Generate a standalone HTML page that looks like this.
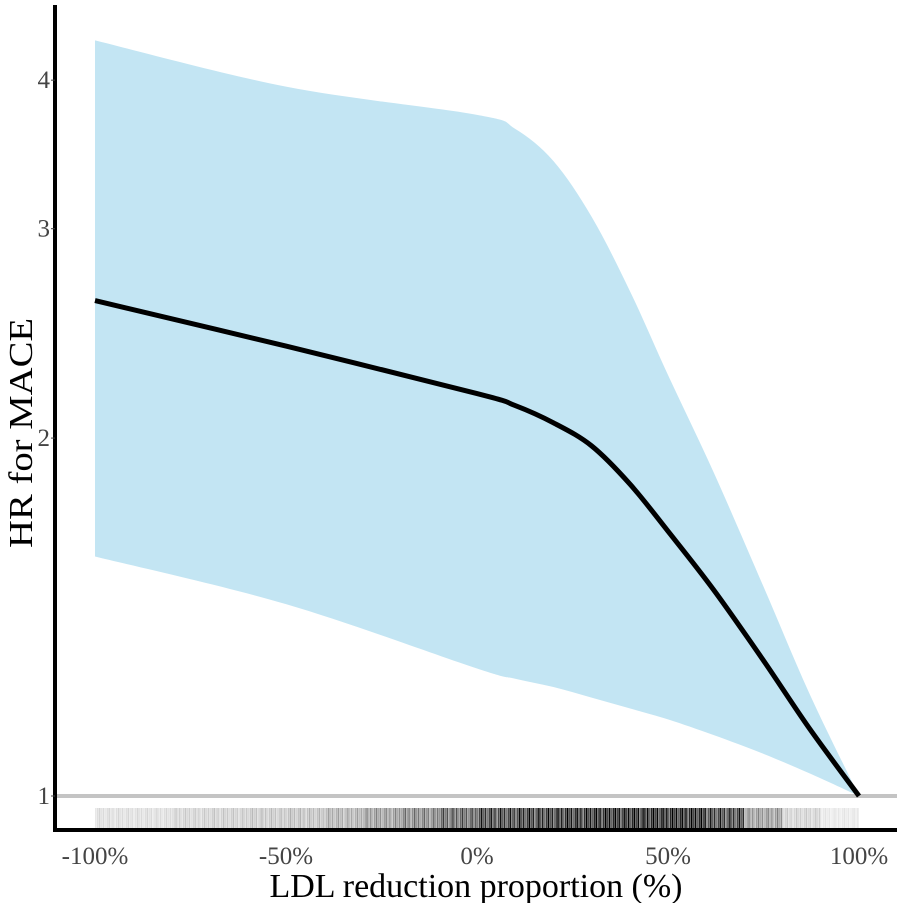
<!DOCTYPE html>
<html><head><meta charset="utf-8"><style>
body{margin:0;background:#fff}
svg{display:block;font-family:"Liberation Serif",serif}
</style></head><body>
<svg id="chart" width="902" height="903">
<g id="band"></g><g id="rug"></g><g id="line"></g><g id="axes"></g>
</svg>
<script>
const xs=[-100,-50,0,10,20,30,40,50,62,75,87,100];
const hr=[2.61,2.39,2.18,2.13,2.06,1.97,1.83,1.67,1.49,1.30,1.14,1.0];
const upper=[4.32,3.95,3.74,3.64,3.42,3.07,2.66,2.26,1.87,1.50,1.22,1.0];
const lower=[1.59,1.45,1.28,1.255,1.235,1.21,1.185,1.16,1.125,1.085,1.045,1.0];
const xTicks=[-100,-50,0,50,100];
const xTickLabels=["-100%","-50%","0%","50%","100%"];
const yTicks=[1,2,3,4];
const rugBins=[-100,-90,-80,-70,-60,-50,-40,-30,-20,-10,0,10,20,30,40,50,60,70,80,90];
const rugDensity=[0.15,0.15,0.2,0.22,0.25,0.28,0.35,0.45,0.55,0.7,0.85,0.9,0.95,1,1,1,0.85,0.45,0.2,0.1];
const X=v=>95+(v+100)/200*764;
const Y=v=>796-Math.log10(v)*1189;
const NS="http://www.w3.org/2000/svg";
function mk(t,a,p){const e=document.createElementNS(NS,t);for(const k in a)e.setAttribute(k,a[k]);p.appendChild(e);return e;}
function smooth(pts){let d="M"+pts[0][0]+","+pts[0][1];
for(let i=0;i<pts.length-1;i++){const p0=pts[Math.max(i-1,0)],p1=pts[i],p2=pts[i+1],p3=pts[Math.min(i+2,pts.length-1)];
const c1=[p1[0]+(p2[0]-p0[0])/6,p1[1]+(p2[1]-p0[1])/6],c2=[p2[0]-(p3[0]-p1[0])/6,p2[1]-(p3[1]-p1[1])/6];
d+="C"+c1+" "+c2+" "+p2;}return d;}
const up=xs.map((x,i)=>[X(x),Y(upper[i])]);
const lo=xs.map((x,i)=>[X(x),Y(lower[i])]).reverse();
const d=smooth(up)+"L"+smooth(lo).slice(1)+"Z";
const band=mk("path",{d:d,fill:"#c3e5f3"},document.getElementById("band"));


const ax=document.getElementById("axes");
const hl=mk("line",{x1:57,x2:897,y1:Y(1),y2:Y(1),stroke:"#c4c4c4","stroke-width":4},document.getElementById("rug"));


const rg=document.getElementById("rug");
rugBins.forEach((b,i)=>{for(let k=0;k<20;k++){const v=b+k*0.5;const r=mk("rect",{x:X(v),y:808,width:1.6,height:22,fill:"#000",opacity:Math.min(1,rugDensity[i]*(0.6+0.5*((k*7)%5)/4))},rg);

}});
const ln=mk("path",{d:smooth(xs.map((x,i)=>[X(x),Y(hr[i])])),fill:"none",stroke:"#000","stroke-width":5,"stroke-linejoin":"round"},document.getElementById("line"));


const ya=mk("line",{x1:55,x2:55,y1:5,y2:832,stroke:"#000","stroke-width":4},ax);


const xa=mk("line",{x1:53,x2:897,y1:830,y2:830,stroke:"#000","stroke-width":4},ax);


yTicks.forEach(t=>{const e=mk("text",{x:50,y:Y(t)+8,"text-anchor":"end","font-size":25,fill:"#444"},ax);e.textContent=t;


mk("line",{x1:51,x2:55,y1:Y(t),y2:Y(t),stroke:"#444"},ax);});
xTicks.forEach((t,i)=>{const e=mk("text",{x:X(t),y:864,"text-anchor":"middle","font-size":25,fill:"#444"},ax);e.textContent=xTickLabels[i];

});
const xt=mk("text",{x:476,y:897,"text-anchor":"middle","font-size":34,fill:"#000",textLength:413,lengthAdjust:"spacingAndGlyphs"},ax);xt.textContent="LDL reduction proportion (%)";


const yt=mk("text",{x:0,y:0,"text-anchor":"middle","font-size":34,fill:"#000",textLength:230,lengthAdjust:"spacingAndGlyphs",transform:"translate(32,433) rotate(-90)"},ax);yt.textContent="HR for MACE";


</script>
</body></html>
